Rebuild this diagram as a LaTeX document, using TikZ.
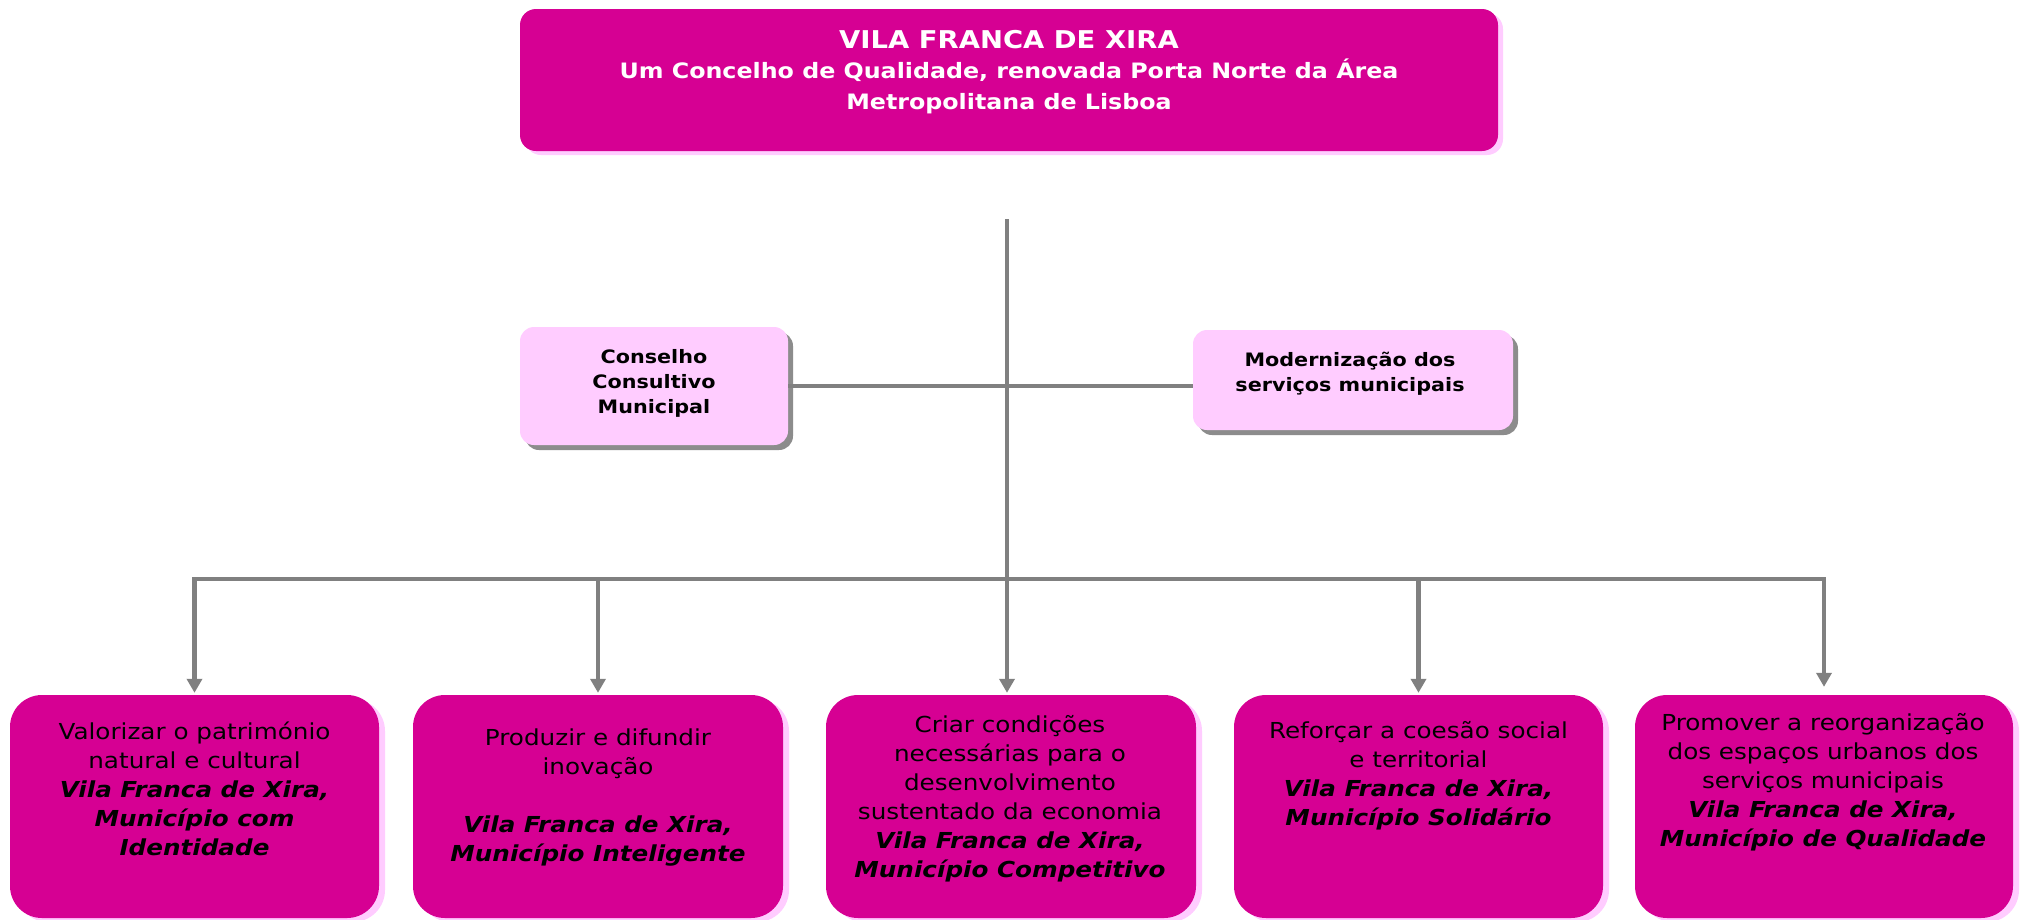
\documentclass[tikz,border=0pt]{standalone}
\usepackage{fontspec}
\setmainfont{DejaVu Sans}[FakeStretch=1.12]
\usetikzlibrary{arrows.meta}
\definecolor{mag}{HTML}{D60093}
\definecolor{lpink}{HTML}{FFCCFF}
\definecolor{lgrey}{HTML}{808080}
\definecolor{shgrey}{HTML}{8C8C8C}
\newcommand\vfx[1]{{\bfseries\itshape #1}}
\begin{document}
\begin{tikzpicture}[x=1pt,y=-1pt,
  box/.style={rectangle, inner sep=0pt, draw=none},
  topbox/.style={box, fill=mag, rounded corners=16pt,
    preaction={fill=lpink, transform canvas={shift={(5pt,-4pt)}}}},
  sidebox/.style={box, fill=lpink, rounded corners=14pt,
    preaction={fill=shgrey, transform canvas={shift={(5pt,-5pt)}}}},
  goal/.style={box, fill=mag, rounded corners=32pt, minimum height=223pt,
    preaction={fill=lpink, transform canvas={shift={(6pt,-4pt)}}}},
  goaltxt/.style={anchor=north, inner sep=0pt, align=center, text=black,
    font=\fontsize{22}{29}\selectfont},
  sidetxt/.style={anchor=north, inner sep=0pt, align=center, text=black,
    font=\fontsize{18.5}{25}\selectfont\bfseries},
  conn/.style={draw=lgrey, line width=4.5pt},
  arr/.style={conn, {Triangle[length=14pt,width=15pt]}-{Triangle[length=14pt,width=15pt]}},
  darr/.style={conn, -{Triangle[length=14pt,width=15pt]}}
]
\useasboundingbox (0,0) rectangle (2022,919);
\fill[white] (0,0) rectangle (2022,919);

% top box
\node[topbox, minimum width=978pt, minimum height=142pt] (top) at (1009,80) {};
\node[anchor=base, inner sep=0pt, text=white, font=\fontsize{24.5}{30}\selectfont\bfseries] (title) at (1009,48) {VILA FRANCA DE XIRA};
\node[anchor=north, inner sep=0pt, align=center, text=white, font=\fontsize{21.2}{31}\selectfont\bfseries] (sub) at (1009,56)
  {\rule{0pt}{22pt}Um Concelho de Qualidade, renovada Porta Norte da Área\\ Metropolitana de Lisboa};

% side boxes
\node[sidebox, minimum width=268pt, minimum height=118pt] (cc) at (654,386) {};
\node[sidetxt] at (654,347) {\rule{0pt}{16pt}Conselho\\ Consultivo\\ Municipal};
\node[sidebox, minimum width=320pt, minimum height=100pt] (ms) at (1353,380) {};
\node[sidetxt] at (1350,350) {\rule{0pt}{16pt}Modernização dos\\ serviços municipais};

% goal boxes
\node[goal, minimum width=369pt] (b1) at (194.5,806.5) {};
\node[goal, minimum width=370pt] (b2) at (598,806.5) {};
\node[goal, minimum width=370pt] (b3) at (1011,806.5) {};
\node[goal, minimum width=369pt] (b4) at (1418.5,806.5) {};
\node[goal, minimum width=378pt] (b5) at (1824,806.5) {};

\node[goaltxt] at (194.5,719) {\rule{0pt}{20pt}Valorizar o património\\ natural e cultural\\ \vfx{Vila Franca de Xira,}\\ \vfx{Município com}\\ \vfx{Identidade}};
\node[goaltxt] at (598,725) {\rule{0pt}{20pt}Produzir e difundir\\ inovação\\[29pt] \vfx{Vila Franca de Xira,}\\ \vfx{Município Inteligente}};
\node[goaltxt] at (1010,712) {\rule{0pt}{20pt}Criar condições\\ necessárias para o\\ desenvolvimento\\ sustentado da economia\\ \vfx{Vila Franca de Xira,}\\ \vfx{Município Competitivo}};
\node[goaltxt] at (1418.5,718) {\rule{0pt}{20pt}Reforçar a coesão social\\ e territorial\\ \vfx{Vila Franca de Xira,}\\ \vfx{Município Solidário}};
\node[goaltxt] at (1823,710) {\rule{0pt}{20pt}Promover a reorganização\\ dos espaços urbanos dos\\ serviços municipais\\ \vfx{Vila Franca de Xira,}\\ \vfx{Município de Qualidade}};

% connectors
\coordinate (ttop) at (1007,219);
\coordinate (bus) at (1007,579);
\draw[conn] (ttop) -- (bus);
\draw[conn] (cc.east) -- (cc.east -| ms.west);
\draw[arr, shorten <=2pt, shorten >=8pt] (b1.north) -- (b1.north |- bus) -- (b5.north |- bus) -- (b5.north);
\draw[darr, shorten >=2pt] (b2.north |- bus) -- (b2.north);
\draw[darr, shorten >=2pt] (bus) -- (bus |- b3.north);
\draw[darr, shorten >=2pt] (b4.north |- bus) -- (b4.north);
\end{tikzpicture}
\end{document}
